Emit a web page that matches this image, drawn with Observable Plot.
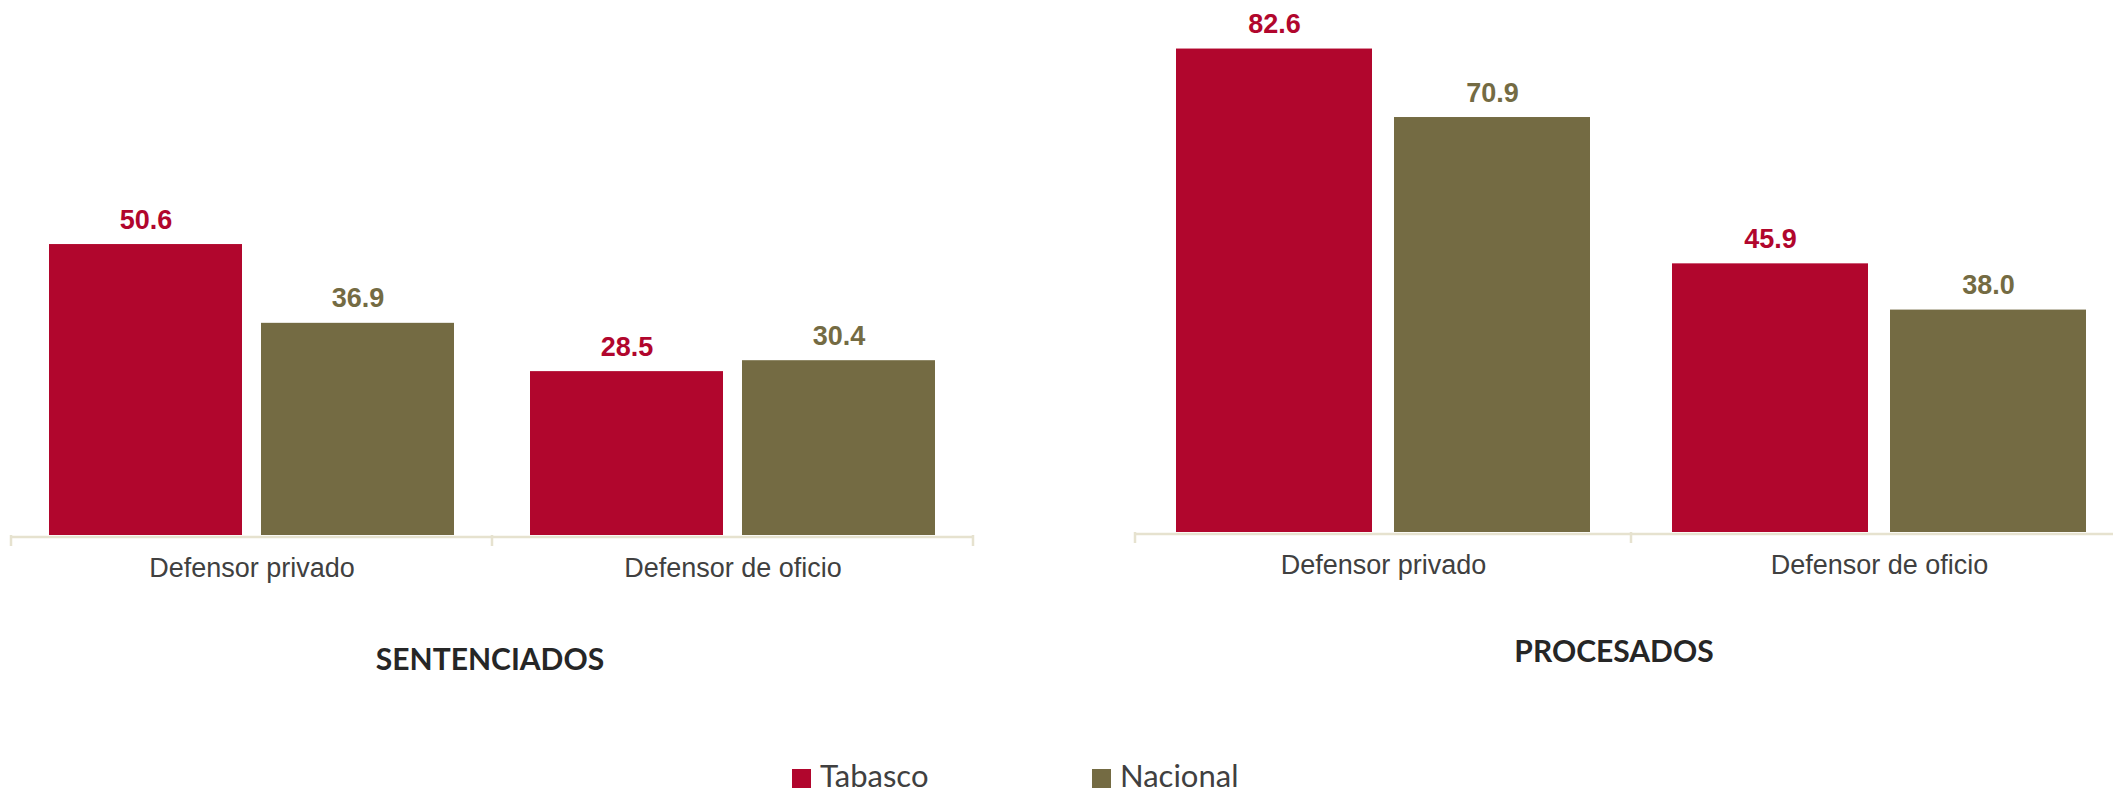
<!DOCTYPE html>
<html>
<head>
<meta charset="utf-8">
<script src="https://cdn.jsdelivr.net/npm/d3@7"></script>
<script src="https://cdn.jsdelivr.net/npm/@observablehq/plot@0.6"></script>
<style>
  html, body { margin: 0; padding: 0; background: #fff; overflow: hidden; width: 2113px; height: 794px; }
  #root { position: relative; width: 2113px; height: 794px; overflow: hidden; }
  .panel { position: absolute; top: 0; }
  .panel svg { max-width: none !important; display: block; }
  #overlay { position: absolute; left: 0; top: 0; }
</style>
</head>
<body>
<div id="root">
  <div id="left" class="panel" style="left:0px; width:980px"></div>
  <div id="right" class="panel" style="left:1100px; width:1035px"></div>
  <svg id="overlay" width="2113" height="794"></svg>
</div>
<script>
// ---- Data ----
const categorias = ["Defensor privado", "Defensor de oficio"];
const series = ["Tabasco", "Nacional"];
const sentenciadosTabasco = [50.6, 28.5];
const sentenciadosNacional = [36.9, 30.4];
const procesadosTabasco = [82.6, 45.9];
const procesadosNacional = [70.9, 38.0];
const titulos = ["SENTENCIADOS", "PROCESADOS"];
const colores = ["#B1062D", "#746B43"];

function filas(tab, nac) {
  const out = [];
  categorias.forEach((c, i) => {
    out.push({categoria: c, serie: series[0], valor: tab[i]});
    out.push({categoria: c, serie: series[1], valor: nac[i]});
  });
  return out;
}

function panel(rows, o) {
  const chart = Plot.plot({
    width: o.width,
    height: o.height,
    marginLeft: o.ml,
    marginRight: o.mr,
    marginTop: 0,
    marginBottom: o.height - o.base,
    fx: {domain: categorias, padding: 0, label: null},
    x: {domain: series, paddingInner: o.pi, paddingOuter: o.po, axis: null},
    y: {domain: [0, 100], range: [o.base, o.base - 100 * o.k], axis: null},
    color: {domain: series, range: colores},
    style: {fontFamily: "'Liberation Sans', Arial, sans-serif", background: "transparent", overflow: "visible", maxWidth: "none"},
    marks: [
      Plot.ruleY([0], {stroke: "#e6e2cf", strokeWidth: 2.5, dy: 1.5}),
      Plot.barY(rows, {fx: "categoria", x: "serie", y: "valor", fill: "serie"}),
      Plot.text(rows, {
        fx: "categoria", x: "serie", y: "valor",
        text: d => d.valor.toFixed(1),
        fill: "serie", dy: -16, lineAnchor: "bottom",
        fontSize: 27, fontWeight: "bold"
      }),
      Plot.axisFx({anchor: "bottom", tickSize: 0, tickPadding: 22, fontSize: 27, fill: "#404040", label: null})
    ]
  });
  // boundary ticks of the category axis, derived from the fx scale
  const fx = chart.scale("fx");
  const y0 = chart.scale("y").apply(0);
  const edges = categorias.map(c => fx.apply(c));
  edges.push(fx.apply(categorias[categorias.length - 1]) + fx.bandwidth);
  d3.select(chart).append("g")
    .selectAll("line").data(edges).join("line")
    .attr("x1", d => d).attr("x2", d => d)
    .attr("y1", y0).attr("y2", y0 + 11)
    .attr("stroke", "#e6e2cf").attr("stroke-width", 2.5);
  return chart;
}

document.getElementById("left").append(panel(filas(sentenciadosTabasco, sentenciadosNacional), {
  width: 980, height: 600, ml: 11, mr: 7, base: 535, k: 5.75, pi: 0.0894, po: 0.1765
}));
document.getElementById("right").append(panel(filas(procesadosTabasco, procesadosNacional), {
  width: 1035, height: 600, ml: 35, mr: 8, base: 532, k: 5.853, pi: 0.1, po: 0.183
}));

// ---- Titles and legend ----
const ov = d3.select("#overlay");
const tpos = [{x: 490, y: 670}, {x: 1614, y: 662}];
titulos.forEach((t, i) => {
  ov.append("text").attr("x", tpos[i].x).attr("y", tpos[i].y)
    .attr("text-anchor", "middle")
    .attr("font-family", "Lato, 'Open Sans', sans-serif")
    .attr("font-weight", "bold").attr("font-size", 30)
    .attr("fill", "#262626").text(t);
});
const lpos = [792, 1092];
series.forEach((s, i) => {
  ov.append("rect").attr("x", lpos[i]).attr("y", 769).attr("width", 19).attr("height", 19).attr("fill", colores[i]);
  ov.append("text").attr("x", lpos[i] + 28).attr("y", 787)
    .attr("font-family", "Lato, 'Open Sans', sans-serif")
    .attr("font-size", 31).attr("fill", "#404040").text(s);
});
</script>
</body>
</html>
